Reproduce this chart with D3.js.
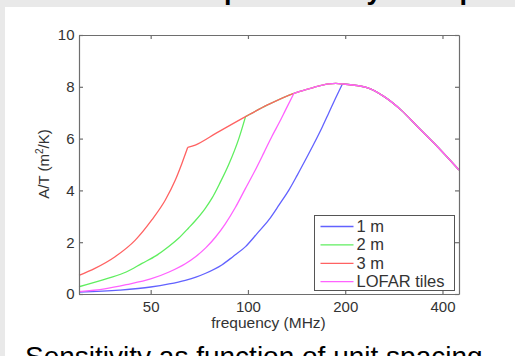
<!DOCTYPE html>
<html>
<head>
<meta charset="utf-8">
<script src="https://cdn.jsdelivr.net/npm/d3@7"></script>
<style>
  body { margin: 0; background: #e9e9e9; }
  svg { display: block; }
  text { font-family: "Liberation Sans", Arial, sans-serif; }
</style>
</head>
<body>
<div id="chart"></div>
<script>
// tick values
const freqTicks = [50, 100, 200, 400]
const valueTicks = [0, 2, 4, 6, 8, 10]

// legend labels
const seriesNames = ["1 m", "2 m", "3 m", "LOFAR tiles"]

// [frequency MHz, A/T m^2/K]
// dense (sky-limited) upper envelope shared by all spacings
const denseLimit = [
  [65.1, 5.66], [68.7, 5.75], [80, 6.22], [98.3, 6.85], [115, 7.3],
  [138.8, 7.75], [145.5, 7.83], [160, 7.98], [178, 8.11], [187, 8.13],
  [196, 8.11], [235, 7.96], [264, 7.62], [298, 7.1], [335, 6.46],
  [377, 5.82], [450, 4.79]
]

// sparse parts, each ends where it meets the envelope
const sparse1m = [
  [30, 0.07], [40, 0.15], [50, 0.27], [57, 0.39], [64, 0.53], [69, 0.65],
  [74, 0.8], [83, 1.12], [90, 1.45], [98.3, 1.83], [107, 2.35], [116, 2.86],
  [125, 3.45], [134, 4.02], [142, 4.58], [151, 5.2], [160, 5.8], [170, 6.46],
  [178, 7.0], [187, 7.58], [196, 8.11]
]
const sparse2m = [
  [30, 0.28], [37, 0.61], [42, 0.85], [47, 1.18], [52, 1.48], [57, 1.84],
  [61, 2.15], [65.5, 2.55], [68.7, 2.83], [73.7, 3.3], [77.4, 3.7],
  [82, 4.3], [87.2, 5.0], [93.7, 6.0], [98.3, 6.85]
]
const sparse3m = [
  [30, 0.72], [33.6, 0.99], [38.8, 1.44], [44.8, 2.08], [50.4, 2.86],
  [55.5, 3.63], [59.6, 4.4], [62.5, 5.05], [65.1, 5.66]
]
const sparseLofar = [
  [30, 0.09], [36, 0.2], [42, 0.36], [50, 0.58], [57, 0.85], [64, 1.17],
  [69, 1.45], [74, 1.78], [79.4, 2.2], [85, 2.7], [91.5, 3.35], [98, 4.05],
  [105.5, 4.8], [112, 5.45], [118.8, 6.1], [125, 6.62], [130.9, 7.12],
  [138.8, 7.75]
]

const sparseParts = [sparse1m, sparse2m, sparse3m, sparseLofar]
const colors = ["#6262ff", "#5fee5f", "#ff6262", "#ff62ff"]

const W = 515, H = 356
const plot = { left: 79, right: 459, top: 35, bottom: 294 }
const axisColor = "#6e6e6e"
const labelColor = "#333"

const svg = d3.select("#chart").append("svg")
  .attr("width", W)
  .attr("height", H)

// white slide area (grey strip top and left)
svg.append("rect")
  .attr("x", 5).attr("y", 7)
  .attr("width", W - 5).attr("height", H - 7)
  .attr("fill", "#fff")

// slide title, only its descenders show above the frame
const title = svg.append("text")
  .attr("y", -1.5)
  .attr("font-size", 27)
  .attr("font-weight", "bold")
  .attr("fill", "#000")
  .text("Dipole density and sparse limit")
const pIdx = title.text().indexOf("p")
title.attr("x", 224 - title.node().getSubStringLength(0, pIdx))

const x = d3.scaleLog().domain([30, 450]).range([plot.left, plot.right])
const y = d3.scaleLinear().domain([0, 10]).range([plot.bottom, plot.top])

// curves
const line = d3.line()
  .x(d => x(d[0]))
  .y(d => y(d[1]))
  .curve(d3.curveMonotoneX)

const curves = svg.append("g").attr("fill", "none").attr("stroke-width", 1.3)
sparseParts.forEach(function (part, i) {
  let join = part[part.length - 1][0]
  let rest = denseLimit.filter(d => d[0] >= join)
  curves.append("path")
    .attr("d", line(part) + line(rest))
    .attr("stroke", colors[i])
})

// axes, ticks point inward like matlab
function styleAxis(g) {
  g.selectAll("path, line").attr("stroke", axisColor).attr("stroke-width", 1.2)
  g.selectAll("text")
    .attr("fill", labelColor)
    .attr("font-size", 15)
    .attr("font-family", "Liberation Sans, Arial, sans-serif")
}

svg.append("g")
  .attr("transform", "translate(0," + plot.bottom + ")")
  .call(d3.axisBottom(x).tickValues(freqTicks).tickFormat(d3.format("d"))
    .tickSizeInner(-4).tickSizeOuter(0).tickPadding(7.5))
  .call(styleAxis)

svg.append("g")
  .attr("transform", "translate(0," + plot.top + ")")
  .call(d3.axisTop(x).tickValues(freqTicks).tickFormat("")
    .tickSizeInner(-4).tickSizeOuter(0))
  .call(styleAxis)

svg.append("g")
  .attr("transform", "translate(" + plot.left + ",0)")
  .call(d3.axisLeft(y).tickValues(valueTicks).tickFormat(d3.format("d"))
    .tickSizeInner(-4).tickSizeOuter(0).tickPadding(4.5))
  .call(styleAxis)

svg.append("g")
  .attr("transform", "translate(" + plot.right + ",0)")
  .call(d3.axisRight(y).tickValues(valueTicks).tickFormat("")
    .tickSizeInner(-4).tickSizeOuter(0))
  .call(styleAxis)

// axis titles
svg.append("text")
  .attr("x", 268.5).attr("y", 328)
  .attr("text-anchor", "middle")
  .attr("font-size", 15.5)
  .attr("fill", labelColor)
  .text("frequency (MHz)")

const ylab = svg.append("text")
  .attr("transform", "translate(49,164) rotate(-90)")
  .attr("text-anchor", "middle")
  .attr("font-size", 15)
  .attr("fill", labelColor)
ylab.append("tspan").text("A/T (m")
ylab.append("tspan").attr("font-size", 10).attr("dy", -6).text("2")
ylab.append("tspan").attr("dy", 6).text("/K)")

// legend
const legend = svg.append("g").attr("transform", "translate(314.5,215.5)")
legend.append("rect")
  .attr("width", 140).attr("height", 75)
  .attr("fill", "#fff")
  .attr("stroke", "#555")
  .attr("stroke-width", 1)
seriesNames.forEach(function (name, i) {
  let cy = 11 + i * 18.4
  legend.append("line")
    .attr("x1", 6).attr("x2", 39)
    .attr("y1", cy).attr("y2", cy)
    .attr("stroke", colors[i]).attr("stroke-width", 1.3)
  legend.append("text")
    .attr("x", 42).attr("y", cy + 5.5)
    .attr("font-size", 16.5)
    .attr("fill", labelColor)
    .text(name)
})

// slide caption, cut off by the bottom edge
svg.append("text")
  .attr("x", 25).attr("y", 366)
  .attr("font-size", 28)
  .attr("fill", "#000")
  .text("Sensitivity as function of unit spacing")
</script>
</body>
</html>
